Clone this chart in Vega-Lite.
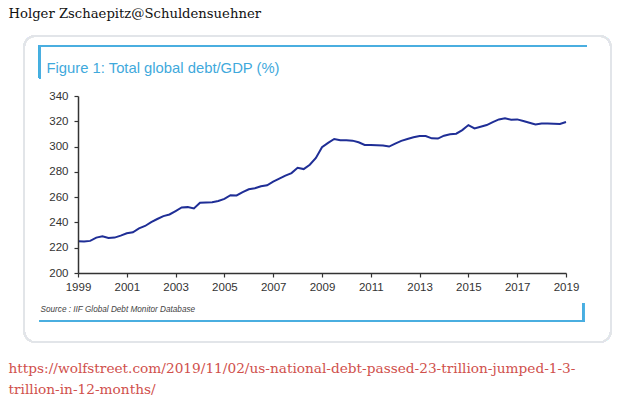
{
  "$schema": "https://vega.github.io/schema/vega-lite/v6.json",
  "width": 488,
  "height": 177,
  "autosize": {"type": "none"},
  "padding": {"left": 78, "top": 96, "right": 54, "bottom": 126},
  "background": "white",
  "config": {
    "view": {"stroke": null},
    "axis": {"grid": false}
  },
  "data": {
    "values": [
      {"year": 1999.0, "debt_gdp": 225.1}, {"year": 1999.25, "debt_gdp": 224.9}, {"year": 1999.5, "debt_gdp": 225.4}, {"year": 1999.75, "debt_gdp": 228.0},
      {"year": 2000.0, "debt_gdp": 229.0}, {"year": 2000.25, "debt_gdp": 227.7}, {"year": 2000.5, "debt_gdp": 228.0}, {"year": 2000.75, "debt_gdp": 229.6},
      {"year": 2001.0, "debt_gdp": 231.4}, {"year": 2001.25, "debt_gdp": 232.2}, {"year": 2001.5, "debt_gdp": 235.3}, {"year": 2001.75, "debt_gdp": 237.2},
      {"year": 2002.0, "debt_gdp": 240.3}, {"year": 2002.25, "debt_gdp": 242.7}, {"year": 2002.5, "debt_gdp": 245.0}, {"year": 2002.75, "debt_gdp": 246.3},
      {"year": 2003.0, "debt_gdp": 249.0}, {"year": 2003.25, "debt_gdp": 251.8}, {"year": 2003.5, "debt_gdp": 252.1}, {"year": 2003.75, "debt_gdp": 251.0},
      {"year": 2004.0, "debt_gdp": 255.5}, {"year": 2004.25, "debt_gdp": 255.8}, {"year": 2004.5, "debt_gdp": 256.0}, {"year": 2004.75, "debt_gdp": 257.0},
      {"year": 2005.0, "debt_gdp": 258.6}, {"year": 2005.25, "debt_gdp": 261.5}, {"year": 2005.5, "debt_gdp": 261.3}, {"year": 2005.75, "debt_gdp": 263.9},
      {"year": 2006.0, "debt_gdp": 266.2}, {"year": 2006.25, "debt_gdp": 267.0}, {"year": 2006.5, "debt_gdp": 268.6}, {"year": 2006.75, "debt_gdp": 269.4},
      {"year": 2007.0, "debt_gdp": 272.3}, {"year": 2007.25, "debt_gdp": 274.6}, {"year": 2007.5, "debt_gdp": 277.0}, {"year": 2007.75, "debt_gdp": 279.0},
      {"year": 2008.0, "debt_gdp": 283.2}, {"year": 2008.25, "debt_gdp": 282.2}, {"year": 2008.5, "debt_gdp": 285.6}, {"year": 2008.75, "debt_gdp": 291.0},
      {"year": 2009.0, "debt_gdp": 299.5}, {"year": 2009.25, "debt_gdp": 302.9}, {"year": 2009.5, "debt_gdp": 306.0}, {"year": 2009.75, "debt_gdp": 305.0},
      {"year": 2010.0, "debt_gdp": 305.0}, {"year": 2010.25, "debt_gdp": 304.7}, {"year": 2010.5, "debt_gdp": 303.4}, {"year": 2010.75, "debt_gdp": 301.3},
      {"year": 2011.0, "debt_gdp": 301.3}, {"year": 2011.25, "debt_gdp": 301.0}, {"year": 2011.5, "debt_gdp": 300.8}, {"year": 2011.75, "debt_gdp": 300.0},
      {"year": 2012.0, "debt_gdp": 302.4}, {"year": 2012.25, "debt_gdp": 304.5}, {"year": 2012.5, "debt_gdp": 306.0}, {"year": 2012.75, "debt_gdp": 307.3},
      {"year": 2013.0, "debt_gdp": 308.4}, {"year": 2013.25, "debt_gdp": 308.4}, {"year": 2013.5, "debt_gdp": 306.5}, {"year": 2013.75, "debt_gdp": 306.3},
      {"year": 2014.0, "debt_gdp": 308.6}, {"year": 2014.25, "debt_gdp": 309.7}, {"year": 2014.5, "debt_gdp": 310.2}, {"year": 2014.75, "debt_gdp": 313.0},
      {"year": 2015.0, "debt_gdp": 317.0}, {"year": 2015.25, "debt_gdp": 314.4}, {"year": 2015.5, "debt_gdp": 315.7}, {"year": 2015.75, "debt_gdp": 317.0},
      {"year": 2016.0, "debt_gdp": 319.4}, {"year": 2016.25, "debt_gdp": 321.5}, {"year": 2016.5, "debt_gdp": 322.3}, {"year": 2016.75, "debt_gdp": 321.2},
      {"year": 2017.0, "debt_gdp": 321.5}, {"year": 2017.25, "debt_gdp": 320.2}, {"year": 2017.5, "debt_gdp": 318.8}, {"year": 2017.75, "debt_gdp": 317.5},
      {"year": 2018.0, "debt_gdp": 318.3}, {"year": 2018.25, "debt_gdp": 318.3}, {"year": 2018.5, "debt_gdp": 318.0}, {"year": 2018.75, "debt_gdp": 317.8},
      {"year": 2019.0, "debt_gdp": 319.4}
    ]
  },
  "resolve": {"axis": {"x": "independent", "y": "independent"}},
  "layer": [
    {
      "mark": {"type": "rect", "filled": false, "stroke": "#e2e5e9", "strokeWidth": 1.5, "cornerRadius": 11},
      "encoding": {
        "x": {"datum": 1996.79, "type": "quantitative", "scale": {"domain": [1999, 2019], "nice": false, "zero": false},
          "axis": {"orient": "top", "labels": false, "ticks": false, "domain": false, "title": "Holger Zschaepitz@Schuldensuehner",
            "titleFont": "DejaVu Serif", "titleFontSize": 13.2, "titleFontWeight": "normal", "titleColor": "#111111",
            "titleAngle": 0, "titleAlign": "left", "titleBaseline": "alphabetic", "titleX": -70, "titleY": -79}},
        "x2": {"datum": 2020.84},
        "y": {"datum": 387.45, "type": "quantitative", "scale": {"domain": [200, 340], "nice": false, "zero": false},
          "axis": {"orient": "right", "labels": false, "ticks": false, "domain": false,
            "title": ["https://wolfstreet.com/2019/11/02/us-national-debt-passed-23-trillion-jumped-1-3-", "trillion-in-12-months/"],
            "titleFont": "DejaVu Serif", "titleFontSize": 13.7, "titleFontWeight": "normal", "titleColor": "#d0504c",
            "titleAngle": 0, "titleAlign": "left", "titleBaseline": "alphabetic", "titleLineHeight": 21, "titleX": -558, "titleY": 276}},
        "y2": {"datum": 145.42}
      }
    },
    {
      "mark": {"type": "rule", "color": "#4aaee0", "strokeWidth": 2},
      "encoding": {
        "x": {"datum": 1997.44, "type": "quantitative", "axis": null},
        "x2": {"datum": 2019.86},
        "y": {"datum": 379.5, "type": "quantitative", "axis": null}
      }
    },
    {
      "mark": {"type": "rule", "color": "#4aaee0", "strokeWidth": 2},
      "encoding": {
        "x": {"datum": 1997.44, "type": "quantitative", "axis": null},
        "y": {"datum": 380.3, "type": "quantitative", "axis": null},
        "y2": {"datum": 354.2}
      }
    },
    {
      "mark": {"type": "rule", "color": "#4aaee0", "strokeWidth": 2},
      "encoding": {
        "x": {"datum": 1997.44, "type": "quantitative", "axis": null},
        "x2": {"datum": 2019.74},
        "y": {"datum": 162.03, "type": "quantitative", "axis": null}
      }
    },
    {
      "mark": {"type": "rule", "color": "#4aaee0", "strokeWidth": 2},
      "encoding": {
        "x": {"datum": 2019.70, "type": "quantitative", "axis": null},
        "y": {"datum": 176.27, "type": "quantitative", "axis": null},
        "y2": {"datum": 161.3}
      }
    },
    {
      "mark": {"type": "line", "color": "#1f2e96", "strokeWidth": 2},
      "encoding": {
        "x": {"field": "year", "type": "quantitative", "scale": {"domain": [1999, 2019], "nice": false, "zero": false},
          "axis": {"values": [1999, 2001, 2003, 2005, 2007, 2009, 2011, 2013, 2015, 2017, 2019], "format": "d", "zindex": 1,
            "labelFlush": false, "labelOverlap": false,
            "labelFont": "Liberation Sans", "labelFontSize": 11.5, "labelColor": "#333333", "labelPadding": 4,
            "domainColor": "#333333", "domainWidth": 1.5, "tickColor": "#333333", "tickWidth": 1.2, "tickSize": 4,
            "title": "Source : IIF Global Debt Monitor Database", "titleFont": "Liberation Sans", "titleFontStyle": "italic",
            "titleFontSize": 8.2, "titleFontWeight": "normal", "titleColor": "#444444", "titleAngle": 0, "titleAlign": "left",
            "titleBaseline": "alphabetic", "titleX": -38, "titleY": 38}},
        "y": {"field": "debt_gdp", "type": "quantitative", "scale": {"domain": [200, 340], "nice": false, "zero": false},
          "axis": {"values": [200, 220, 240, 260, 280, 300, 320, 340], "zindex": 1,
            "labelFont": "Liberation Sans", "labelFontSize": 11.5, "labelColor": "#333333", "labelPadding": 6,
            "domainColor": "#333333", "domainWidth": 1.5, "tickColor": "#333333", "tickWidth": 1.2, "tickSize": 4,
            "title": "Figure 1: Total global debt/GDP (%)", "titleFont": "Liberation Sans", "titleFontSize": 14.8,
            "titleFontWeight": "normal", "titleColor": "#3fa9dc", "titleAngle": 0, "titleAlign": "left",
            "titleBaseline": "alphabetic", "titleX": -32, "titleY": -24}}
      }
    }
  ]
}
